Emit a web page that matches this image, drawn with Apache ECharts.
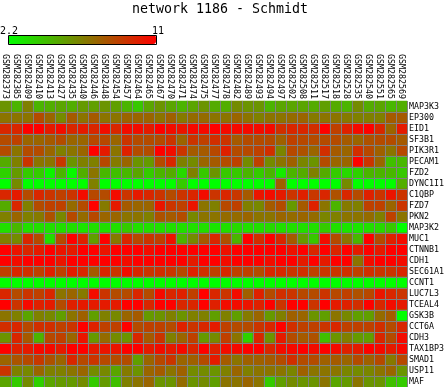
<!DOCTYPE html>
<html>
<head>
<meta charset="utf-8">
<style>
  html, body { margin: 0; padding: 0; background: #fff; }
  #chart { width: 444px; height: 387px; }
</style>
<script src="https://cdn.jsdelivr.net/npm/echarts@6/dist/echarts.min.js"></script>
</head>
<body>
<div id="chart"></div>
<script>
const samples = ['GSM282373','GSM282385','GSM282409','GSM282410','GSM282413','GSM282427','GSM282435','GSM282440','GSM282446','GSM282448','GSM282454','GSM282457','GSM282464','GSM282465','GSM282467','GSM282470','GSM282471','GSM282474','GSM282475','GSM282477','GSM282478','GSM282482','GSM282489','GSM282493','GSM282494','GSM282497','GSM282502','GSM282508','GSM282511','GSM282517','GSM282518','GSM282528','GSM282535','GSM282540','GSM282551','GSM282565','GSM282569'];
const genes = ['MAP3K3','EP300','EID1','SF3B1','PIK3R1','PECAM1','FZD2','DYNC1I1','C1QBP','FZD7','PKN2','MAP3K2','MUC1','CTNNB1','CDH1','SEC61A1','CCNT1','LUC7L3','TCEAL4','GSK3B','CCT6A','CDH3','TAX1BP3','SMAD1','USP11','MAF'];
const minValue = 2.2;
const maxValue = 11;
// one line per gene, same order as genes
const expression = [
  [5.9,4.8,6.6,4.8,5.0,5.3,5.0,5.7,5.5,5.9,5.5,4.8,4.1,5.3,5.9,5.3,4.8,5.3,5.9,5.1,5.0,6.2,5.9,5.9,4.8,5.3,5.3,5.3,5.1,5.5,5.1,4.8,6.2,5.1,5.3,4.7,5.0],
  [7.0,7.0,7.0,8.4,7.5,6.2,7.9,7.0,7.9,7.0,7.0,7.5,7.5,7.5,7.0,7.7,6.8,7.3,7.3,7.0,7.0,7.5,7.0,6.6,7.0,7.0,7.3,7.5,6.8,7.0,7.0,6.8,6.6,6.6,6.6,7.9,7.9],
  [9.7,9.7,11,11,10.1,10.6,9.7,10.1,9.7,10.6,9.7,10.6,10.6,10.1,11,10.6,10.3,10.7,10.7,11,10.7,10.7,10.7,10.6,10.7,9.4,9.7,9.7,9.4,11,8.8,9.9,10.7,11,9.7,7.5,10.1],
  [8.4,8.8,7.5,7.5,7.9,8.4,7.5,7.5,8.5,8.5,7.5,9.2,8.4,8.4,8.4,9.2,7.5,9.2,8.8,9.4,9.2,7.9,8.4,8.4,8.4,7.7,8.8,8.5,8.4,8.4,8.4,7.9,7.5,8.2,8.4,8.4,7.9],
  [8.4,7.0,8.4,8.4,7.5,6.6,7.0,7.5,11,10.1,7.0,9.9,8.4,8.4,11,10.6,9.2,7.9,7.9,8.5,9.9,8.4,8.5,8.8,9.4,6.4,8.5,8.2,7.5,9.4,7.9,7.5,9.4,8.5,7.7,7.0,8.5],
  [5.1,6.6,9.2,7.0,7.0,9.1,5.9,6.6,6.6,8.5,6.8,7.5,5.9,5.7,8.4,9.7,6.6,6.2,7.5,7.9,8.4,8.8,6.2,8.8,6.2,7.0,7.7,6.4,5.9,8.4,7.5,7.5,11,9.2,7.5,4.4,4.7],
  [3.8,5.7,4.0,4.0,2.6,4.8,2.4,5.0,7.0,4.7,4.4,4.7,5.3,4.0,4.8,5.1,3.5,6.6,4.1,5.9,4.1,4.1,4.8,4.0,4.8,2.9,4.8,5.1,6.6,5.1,4.0,3.5,3.8,4.8,4.8,4.7,4.1],
  [2.2,6.2,2.2,2.2,2.2,2.2,2.2,2.2,6.6,2.2,2.2,2.2,2.2,2.2,2.2,2.2,4.0,2.2,2.2,2.2,2.2,2.2,2.2,2.2,2.2,7.7,2.2,2.2,2.2,2.2,2.2,6.2,2.2,2.2,2.2,2.2,5.0],
  [9.7,10.1,8.4,9.7,9.2,8.8,9.2,10.6,8.5,8.4,10.6,9.2,10.1,9.7,9.2,8.4,9.2,9.7,10.6,9.2,9.7,9.1,7.9,10.3,10.6,10.1,9.2,9.9,9.1,9.7,8.2,9.7,8.4,9.9,9.2,10.3,9.2],
  [5.1,9.7,6.6,8.4,8.8,8.8,7.3,8.4,11,6.8,10.1,7.9,7.5,7.5,10.3,9.2,8.8,10.3,7.0,6.6,8.5,8.8,6.6,6.3,7.9,8.4,5.7,7.9,9.9,7.0,4.8,6.8,6.6,8.8,8.8,7.5,9.2],
  [6.6,7.5,6.6,6.8,8.2,6.3,8.5,7.3,8.5,7.5,7.5,7.0,7.0,6.6,8.2,7.9,8.4,6.3,7.0,7.0,7.3,7.3,7.5,7.0,7.0,7.5,7.3,7.5,7.3,6.4,6.6,7.0,7.0,7.3,6.6,8.8,7.0],
  [3.3,4.7,3.3,3.3,3.3,3.3,3.3,3.1,3.3,3.3,3.3,4.0,3.3,3.3,3.3,3.3,3.3,3.3,3.3,3.1,3.3,3.5,3.3,3.3,3.5,3.3,3.3,3.3,3.3,4.0,3.3,3.1,3.1,3.3,3.5,4.1,2.2],
  [6.6,6.2,9.7,8.4,3.3,8.4,11,9.9,5.5,11,6.8,9.7,8.5,9.2,8.8,10.4,4.8,6.2,7.9,9.7,8.2,4.8,11,9.4,11,9.7,7.9,5.7,4.1,10.6,8.4,7.0,4.7,11,8.4,9.9,10.6],
  [11,10.3,9.7,10.1,11,10.3,10.1,11,11,10.3,11,11,11,10.6,11,11,11,11,11,11,10.4,11,11,11,11,11,10.4,11,9.7,11,9.7,11,10.1,11,10.1,11,11],
  [11,10.6,11,11,11,10.3,11,11,11,11,11,10.6,11,11,11,11,11,10.1,11,11,10.6,11,11,11,10.6,11,11,10.1,11,10.1,11,11,7.0,10.6,11,11,10.6],
  [8.8,9.7,9.4,8.8,9.9,8.8,10.1,9.7,7.9,9.7,9.2,10.6,9.7,9.2,9.4,9.2,8.5,9.9,9.4,8.8,9.7,8.8,8.8,8.4,9.7,9.7,9.2,9.4,8.8,9.2,9.2,9.4,8.8,9.4,9.2,9.2,9.7],
  [2.2,2.2,2.2,2.2,2.2,2.2,2.2,2.2,2.2,2.2,2.2,2.2,2.2,2.2,2.2,2.2,2.2,2.2,2.2,2.2,2.2,2.2,2.2,2.2,2.2,2.2,2.2,2.2,2.2,2.2,2.2,2.2,2.2,2.2,2.2,2.2,2.2],
  [9.7,8.4,9.2,8.8,9.7,7.0,7.5,6.8,10.6,9.2,8.4,8.4,9.7,8.4,10.7,9.7,9.9,8.8,11,9.7,9.2,10.6,7.7,9.9,8.4,9.4,9.2,8.5,8.4,9.2,8.5,8.8,8.2,8.5,10.3,9.7,9.2],
  [11,9.2,10.7,9.9,10.1,8.4,9.9,10.1,10.1,10.1,10.1,11,11,9.7,11,11,9.7,9.7,11,9.9,10.6,10.6,10.3,9.9,11,9.2,11,11,9.2,11,10.1,9.9,9.4,11,9.7,10.6,10.1],
  [7.0,6.6,5.3,6.6,6.3,5.5,7.0,7.7,5.5,6.6,6.3,7.5,7.9,5.7,5.9,6.6,5.9,6.6,6.6,5.5,6.6,5.5,6.8,7.5,5.7,6.6,7.7,7.5,5.9,5.5,7.0,6.3,5.5,5.5,7.3,7.9,2.2],
  [9.4,9.7,8.5,9.4,9.4,8.8,9.2,11,9.9,8.8,8.8,11,8.4,8.8,8.8,8.4,9.9,9.2,9.7,10.1,8.8,8.4,8.4,9.2,9.7,11,9.4,8.8,8.8,9.2,9.7,8.8,8.8,8.8,9.4,8.4,9.7],
  [5.9,9.7,7.9,4.8,8.5,8.8,7.5,10.3,5.7,7.3,6.2,5.9,9.7,7.9,9.2,6.6,7.5,8.8,5.7,6.2,8.8,7.0,3.8,9.7,5.9,10.1,8.4,7.9,8.2,4.4,5.9,6.6,5.7,5.5,9.7,8.4,10.6],
  [11,9.9,10.1,10.7,10.7,10.1,11,11,10.1,10.3,10.3,11,11,10.1,10.6,10.1,10.7,9.7,11,9.9,10.6,10.7,11,11,9.7,10.6,10.7,11,10.6,11,10.7,9.9,10.1,11,10.7,10.1,10.7],
  [7.5,8.1,8.5,9.1,8.2,7.5,9.7,8.5,9.2,8.5,8.4,8.4,5.5,7.5,8.5,9.2,7.5,7.7,8.4,10.1,7.9,7.0,7.7,7.7,7.9,8.4,9.4,8.4,8.4,7.7,7.9,7.5,8.4,7.7,8.5,6.8,8.5],
  [9.2,6.6,6.3,7.5,6.6,6.6,7.0,7.5,6.2,6.3,5.3,6.8,5.9,7.5,7.9,7.0,7.7,6.2,6.2,5.9,6.6,7.5,6.6,7.0,7.0,7.0,6.4,7.7,7.0,7.0,7.0,6.4,6.2,6.4,7.0,7.5,5.9],
  [5.3,4.0,6.2,3.8,5.3,5.7,5.7,6.2,4.0,5.7,4.4,6.6,7.0,7.5,5.9,5.9,7.3,5.9,6.2,5.5,7.0,7.0,7.5,7.0,4.0,5.5,6.2,5.9,5.9,7.0,5.3,5.7,7.0,5.9,5.9,4.4,4.0]
];

const FONT = '"DejaVu Sans Mono", monospace';
const cells = [];
expression.forEach((row, y) => {
  row.forEach((v, x) => cells.push([x, y, v]));
});

const chart = echarts.init(document.getElementById('chart'), null, {renderer: 'canvas'});
chart.setOption({
  animation: false,
  backgroundColor: '#fff',
  title: {
    text: 'network 1186 - Schmidt',
    left: 132,
    top: 3,
    padding: 0,
    textStyle: {fontFamily: FONT, fontSize: 13.3, fontWeight: 'normal', color: '#000'}
  },
  grid: {left: 0, top: 101, width: 407, height: 286, outerBoundsMode: 'none'},
  xAxis: {
    type: 'category',
    position: 'top',
    data: samples,
    z: 5,
    axisLine: {show: false},
    axisTick: {show: false},
    axisLabel: {interval: 0, rotate: 90, margin: 2, fontFamily: FONT, fontSize: 8.3, color: '#000'},
    splitLine: {show: true, interval: 0, showMinLine: false, lineStyle: {color: '#808080', width: 1}}
  },
  yAxis: {
    type: 'category',
    position: 'right',
    inverse: true,
    data: genes,
    z: 5,
    axisLine: {show: false},
    axisTick: {show: false},
    axisLabel: {interval: 0, margin: 2, fontFamily: FONT, fontSize: 8.3, color: '#000'},
    splitLine: {show: true, interval: 0, showMinLine: false, lineStyle: {color: '#808080', width: 1}}
  },
  visualMap: {
    type: 'continuous',
    min: minValue,
    max: maxValue,
    dimension: 2,
    orient: 'horizontal',
    left: 8,
    top: 35,
    padding: 0,
    itemWidth: 9,
    itemHeight: 148,
    calculable: false,
    realtime: false,
    text: null,
    showLabel: false,
    inRange: {color: ['#00ff00', '#ff0000']}
  },
  graphic: [
    {type: 'text', left: 0, top: 26, style: {text: String(minValue), font: '10px ' + FONT, fill: '#000'}},
    {type: 'text', left: 152, top: 26, style: {text: String(maxValue), font: '10px ' + FONT, fill: '#000'}},
    {type: 'rect', z: 100, shape: {x: 8.5, y: 35.5, width: 148, height: 9}, style: {fill: null, stroke: '#000', lineWidth: 1}}
  ],
  series: [{
    type: 'heatmap',
    data: cells,
    z: 1,
    progressive: 0,
    itemStyle: {borderWidth: 0}
  }]
});
</script>
</body>
</html>
